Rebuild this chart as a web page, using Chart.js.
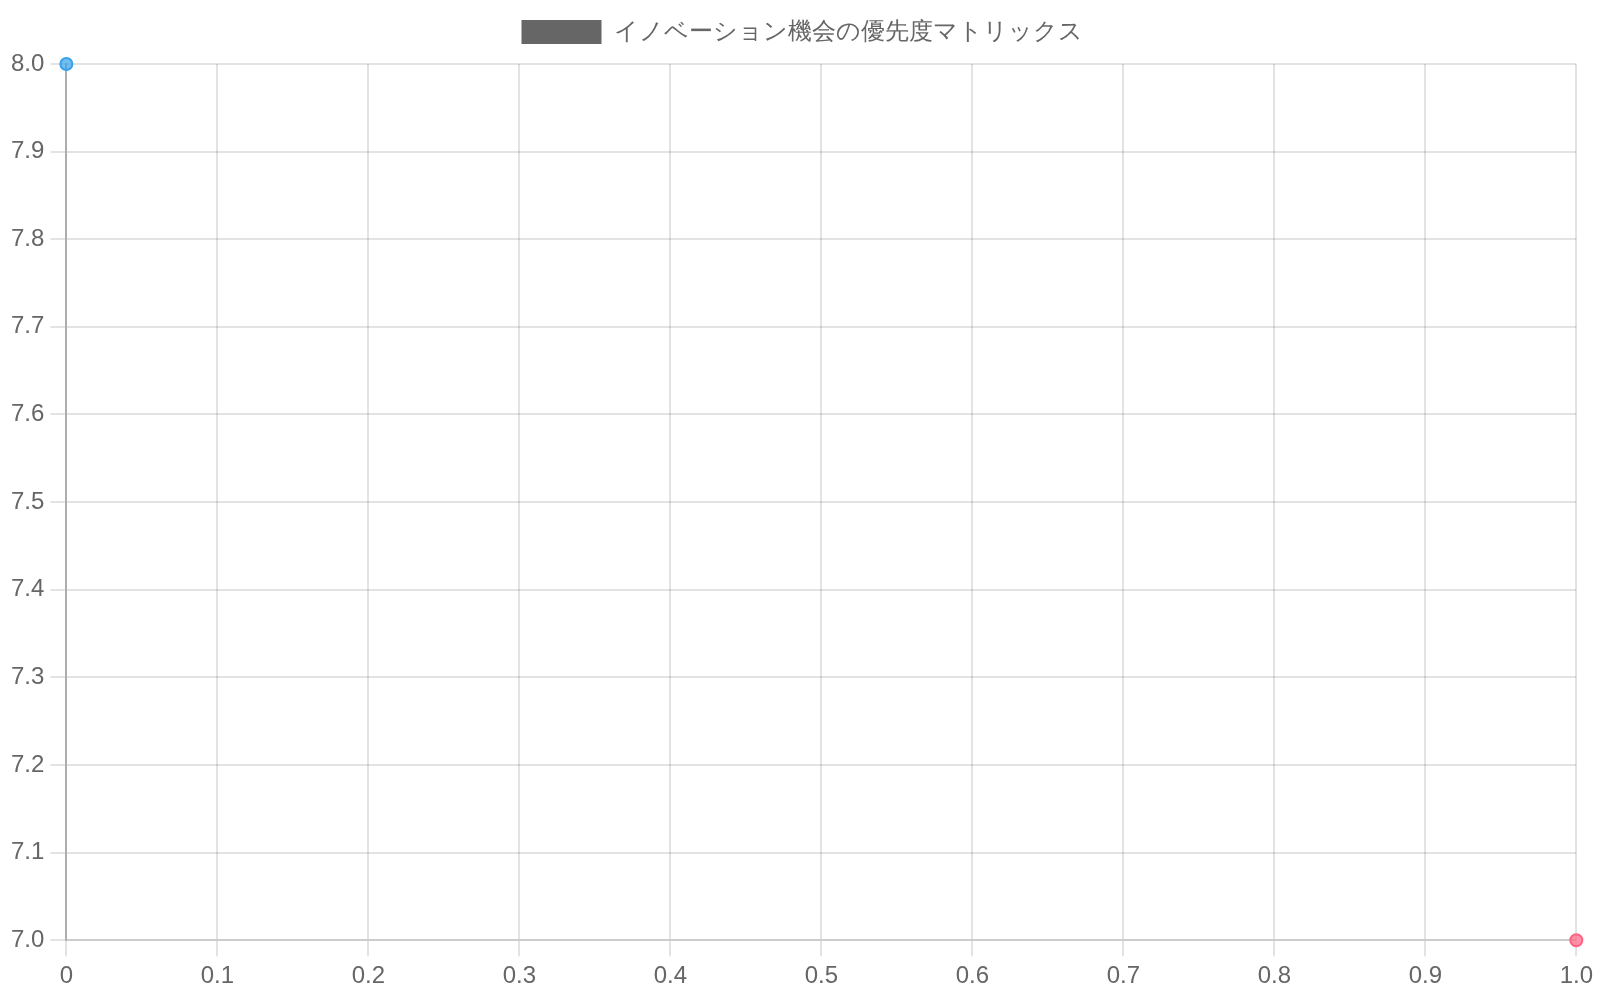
<!DOCTYPE html>
<html>
<head>
<meta charset="utf-8">
<script src="https://cdn.jsdelivr.net/npm/chart.js@4.4.0/dist/chart.umd.min.js"></script>
<style>
html,body{margin:0;padding:0;background:#fff;}
#wrap{position:absolute;left:5px;top:0;width:1594px;height:997px;}
</style>
</head>
<body>
<div id="wrap"><canvas id="c"></canvas></div>
<script>
const datasetLabel = 'イノベーション機会の優先度マトリックス';
const xValues = [0, 1];
const yValues = [8, 7];
const pointColors = ['rgba(54,162,235,0.7)', 'rgba(255,99,132,0.7)'];
const pointBorders = ['rgba(54,162,235,1)', 'rgba(255,99,132,1)'];
const xRange = [0, 1];
const yRange = [7, 8];

const points = xValues.map((x, i) => ({x: x, y: yValues[i]}));

Chart.defaults.font.size = 24;
Chart.defaults.color = '#666';

const legendMargin = {
  id: 'legendMargin',
  beforeInit(chart) {
    const origFit = chart.legend.fit;
    chart.legend.fit = function () {
      origFit.call(this);
      this.height += 10;
    };
  }
};

new Chart(document.getElementById('c'), {
  type: 'scatter',
  plugins: [legendMargin],
  data: {
    datasets: [{
      label: datasetLabel,
      data: points,
      backgroundColor: '#666',
      borderColor: 'rgba(0,0,0,0.1)',
      pointBackgroundColor: pointColors,
      pointBorderColor: pointBorders,
      pointBorderWidth: 2,
      pointRadius: 6,
      pointHoverRadius: 8,
      clip: false
    }]
  },
  options: {
    responsive: true,
    maintainAspectRatio: false,
    animation: false,
    plugins: {
      legend: {
        labels: {
          boxWidth: 80,
          boxHeight: 24,
          padding: 20,
          font: {size: 24},
          generateLabels(chart) {
            return chart.data.datasets.map((ds, i) => ({
              text: ds.label,
              fillStyle: '#666',
              strokeStyle: '#666',
              lineWidth: 0,
              fontColor: '#666',
              hidden: !chart.isDatasetVisible(i),
              datasetIndex: i
            }));
          }
        }
      },
      tooltip: {enabled: false}
    },
    scales: {
      x: {
        type: 'linear',
        min: xRange[0],
        max: xRange[1],
        grid: {color: 'rgba(0,0,0,0.11)', lineWidth: 2, tickLength: 16},
        border: {color: 'rgba(0,0,0,0.1)', width: 2},
        ticks: {stepSize: 0.1, padding: 6, font: {size: 24}}
      },
      y: {
        type: 'linear',
        min: yRange[0],
        max: yRange[1],
        grid: {color: 'rgba(0,0,0,0.11)', lineWidth: 2, tickLength: 16},
        border: {color: 'rgba(0,0,0,0.24)', width: 2},
        ticks: {stepSize: 0.1, padding: 6, font: {size: 24}, callback: v => v.toFixed(1)}
      }
    }
  }
});
</script>
</body>
</html>
